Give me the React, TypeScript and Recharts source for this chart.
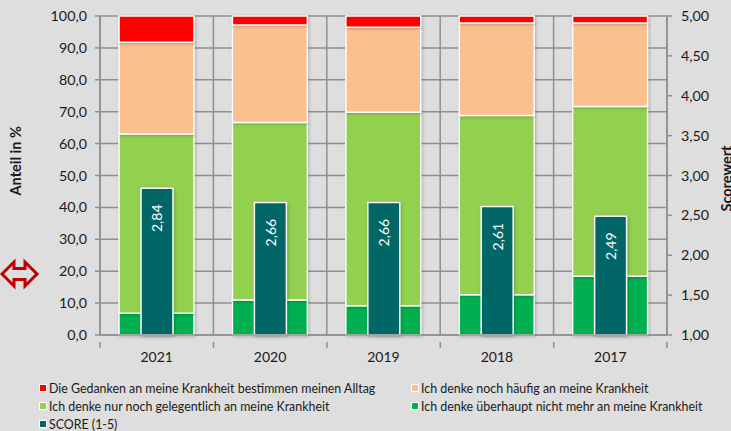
import {
  BarChart,
  Bar,
  XAxis,
  YAxis,
  CartesianGrid,
  LabelList,
} from 'recharts';

const years = ['2021', '2020', '2019', '2018', '2017'];
const gar = [6.8, 11, 9.2, 12.6, 18.4];
const gelegentlich = [56.2, 55.6, 60.6, 56.2, 53.2];
const haeufig = [28.8, 30.6, 26.7, 29, 26.2];
const alltag = [8.2, 2.8, 3.5, 2.2, 2.2];
const score = [2.84, 2.66, 2.66, 2.61, 2.49];

const pctTicks = [0, 10, 20, 30, 40, 50, 60, 70, 80, 90, 100];
const scoreTicks = [1, 1.5, 2, 2.5, 3, 3.5, 4, 4.5, 5];

const legendRows = [
  [
    { color: '#ff0000', label: 'Die Gedanken an meine Krankheit bestimmen meinen Alltag' },
    { color: '#fac090', label: 'Ich denke noch häufig an meine Krankheit' },
  ],
  [
    { color: '#92d050', label: 'Ich denke nur noch gelegentlich an meine Krankheit' },
    { color: '#00b050', label: 'Ich denke überhaupt nicht mehr an meine Krankheit' },
  ],
  [{ color: '#006666', label: 'SCORE (1-5)' }],
];

const data = years.map((year, i) => ({
  year,
  gar: gar[i],
  gelegentlich: gelegentlich[i],
  haeufig: haeufig[i],
  alltag: alltag[i],
  score: score[i],
}));

const FONT = 'Lato, sans-serif';
const GRID = '#8f8f8f';
const TEXT = '#1a1a1a';
const shadow = { filter: 'drop-shadow(1px 1px 1.5px rgba(0,0,0,0.22))' };

const comma = (digits: number) => (v: number) => v.toFixed(digits).replace('.', ',');

function YearTick({ x, y, payload, index }: any) {
  const band = 566 / years.length;
  const left = x - band / 2;
  return (
    <g>
      <line x1={left} x2={left} y1={y - 1} y2={y + 5} stroke={GRID} strokeWidth={1.5} />
      {index === years.length - 1 && (
        <line x1={left + band} x2={left + band} y1={y - 1} y2={y + 5} stroke={GRID} strokeWidth={1.5} />
      )}
      <text x={x} y={y + 25} dy={-6} textAnchor="middle" fontFamily={FONT} fontSize={14} fill={TEXT}>
        {payload.value}
      </text>
    </g>
  );
}

function ScoreLabel({ x, y, width, value }: any) {
  const cx = x + width / 2;
  const cy = y + 30;
  return (
    <text
      x={cx}
      y={cy}
      transform={`rotate(-90 ${cx} ${cy})`}
      textAnchor="middle"
      dominantBaseline="central"
      fontFamily={FONT}
      fontSize={14}
      fill="#ffffff"
    >
      {comma(2)(value)}
    </text>
  );
}

function verticalLines({ offset }: any) {
  const step = offset.width / years.length;
  return [...years.map((_, i) => offset.left + i * step), offset.left + offset.width];
}

function ArrowIcon() {
  return (
    <svg width={40} height={40} style={{ position: 'absolute', left: 0, top: 254 }}>
      <path
        d="M2 20 L14 8 L14 14.5 L25 14.5 L25 8 L37 20 L25 32 L25 25.5 L14 25.5 L14 32 Z"
        fill="#dedede"
        stroke="#c00000"
        strokeWidth={3}
      />
    </svg>
  );
}

function ChartLegend() {
  return (
    <div style={{ position: 'absolute', left: 39, top: 379, fontFamily: FONT, fontSize: 12.4, color: TEXT }}>
      {legendRows.map((row, r) => (
        <div key={r} style={{ display: 'flex', height: 18, alignItems: 'center' }}>
          {row.map((item) => (
            <div key={item.label} style={{ display: 'flex', alignItems: 'center', width: 372 }}>
              <span
                style={{
                  width: 6,
                  height: 6,
                  marginRight: 2,
                  background: item.color,
                  border: '1px solid #fff',
                }}
              />
              {item.label}
            </div>
          ))}
        </div>
      ))}
    </div>
  );
}

export default function App() {
  return (
    <div
      style={{
        position: 'absolute',
        left: 0,
        top: 0,
        width: 731,
        height: 431,
        overflow: 'hidden',
        background: '#dedede',
      }}
    >
      <BarChart
        width={731}
        height={431}
        data={data}
        margin={{ top: 16, right: 0, bottom: 0, left: 0 }}
      >
        <CartesianGrid
          xAxisId="cat"
          yAxisId="pct"
          stroke={GRID}
          strokeWidth={1.5}
          verticalCoordinatesGenerator={verticalLines}
        />
        <XAxis
          xAxisId="cat"
          dataKey="year"
          height={96}
          axisLine={{ stroke: GRID, strokeWidth: 1.5 }}
          tickLine={false}
          interval={0}
          tick={<YearTick />}
        />
        <XAxis xAxisId="scoreCat" dataKey="year" hide />
        <YAxis
          yAxisId="pct"
          width={100}
          domain={[0, 100]}
          ticks={pctTicks}
          interval={0}
          tickFormatter={comma(1)}
          axisLine={{ stroke: GRID, strokeWidth: 1.5 }}
          tickLine={{ stroke: GRID, strokeWidth: 1.5 }}
          tickSize={5}
          tickMargin={8}
          tick={{ fontFamily: FONT, fontSize: 14.3, fill: TEXT }}
          label={{
            value: 'Anteil in %',
            angle: -90,
            position: 'insideLeft',
            offset: 16,
            dy: 20,
            style: { fontFamily: FONT, fontSize: 14.5, fontWeight: 700, fill: TEXT },
          }}
        />
        <YAxis
          yAxisId="score"
          orientation="right"
          width={64}
          domain={[1, 5]}
          ticks={scoreTicks}
          interval={0}
          tickFormatter={comma(2)}
          axisLine={{ stroke: GRID, strokeWidth: 1.5 }}
          tickLine={{ stroke: GRID, strokeWidth: 1.5 }}
          tickSize={5}
          tickMargin={9}
          tick={{ fontFamily: FONT, fontSize: 14.3, fill: TEXT }}
          label={{
            value: 'Scorewert',
            angle: -90,
            position: 'insideRight',
            offset: 4,
            dy: -30,
            style: { fontFamily: FONT, fontSize: 14.5, fontWeight: 700, fill: TEXT },
          }}
        />
        <Bar xAxisId="cat" yAxisId="pct" dataKey="gar" stackId="a" barSize={75} fill="#00b050" stroke="#fff" strokeWidth={1.5} style={shadow} isAnimationActive={false} />
        <Bar xAxisId="cat" yAxisId="pct" dataKey="gelegentlich" stackId="a" barSize={75} fill="#92d050" stroke="#fff" strokeWidth={1.5} style={shadow} isAnimationActive={false} />
        <Bar xAxisId="cat" yAxisId="pct" dataKey="haeufig" stackId="a" barSize={75} fill="#fac090" stroke="#fff" strokeWidth={1.5} style={shadow} isAnimationActive={false} />
        <Bar xAxisId="cat" yAxisId="pct" dataKey="alltag" stackId="a" barSize={75} fill="#ff0000" stroke="#fff" strokeWidth={1.5} style={shadow} isAnimationActive={false} />
        <Bar xAxisId="scoreCat" yAxisId="score" dataKey="score" barSize={32} fill="#006666" stroke="#fff" strokeWidth={1.5} style={shadow} isAnimationActive={false}>
          <LabelList dataKey="score" content={<ScoreLabel />} />
        </Bar>
      </BarChart>
      <ArrowIcon />
      <ChartLegend />
    </div>
  );
}
